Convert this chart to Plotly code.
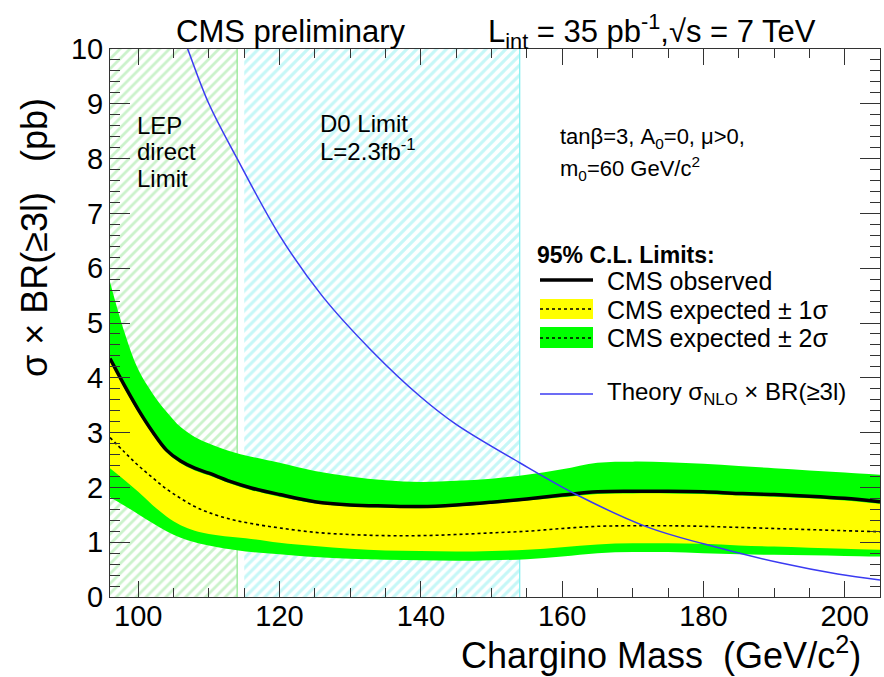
import plotly.graph_objects as go

# ---------------- data ----------------
mass = [96, 98, 100, 102, 104, 106, 108, 110, 113, 116, 120, 125, 130, 135, 140,
        145, 150, 155, 160, 165, 170, 175, 180, 185, 190, 195, 200, 205]
observed = [4.35, 3.87, 3.42, 3.02, 2.68, 2.48, 2.35, 2.26, 2.11, 1.99, 1.87, 1.74, 1.68, 1.66, 1.65,
            1.68, 1.73, 1.79, 1.86, 1.92, 1.93, 1.93, 1.92, 1.89, 1.87, 1.84, 1.80, 1.74]
expected = [2.91, 2.65, 2.40, 2.18, 1.97, 1.80, 1.65, 1.54, 1.42, 1.34, 1.26, 1.18, 1.14, 1.12, 1.12,
            1.14, 1.17, 1.20, 1.25, 1.29, 1.30, 1.30, 1.29, 1.27, 1.25, 1.23, 1.21, 1.19]
exp_m1 = [2.35, 2.14, 1.92, 1.68, 1.47, 1.31, 1.21, 1.15, 1.10, 1.06, 0.99, 0.93, 0.88, 0.85, 0.84,
          0.83, 0.84, 0.86, 0.91, 0.96, 0.98, 0.98, 0.97, 0.94, 0.92, 0.90, 0.88, 0.86]
exp_p1 = [4.30, 3.82, 3.37, 2.98, 2.64, 2.44, 2.31, 2.22, 2.07, 1.95, 1.83, 1.71, 1.65, 1.63, 1.62,
          1.65, 1.70, 1.76, 1.82, 1.88, 1.89, 1.89, 1.88, 1.85, 1.83, 1.80, 1.76, 1.70]
exp_m2 = [1.82, 1.67, 1.51, 1.35, 1.20, 1.08, 1.00, 0.94, 0.87, 0.82, 0.78, 0.73, 0.70, 0.68, 0.67,
          0.66, 0.67, 0.69, 0.74, 0.80, 0.82, 0.82, 0.80, 0.78, 0.77, 0.76, 0.75, 0.74]
exp_p2 = [5.75, 4.85, 4.15, 3.72, 3.38, 3.10, 2.92, 2.80, 2.66, 2.56, 2.45, 2.30, 2.20, 2.13, 2.10,
          2.12, 2.16, 2.23, 2.33, 2.45, 2.47, 2.46, 2.43, 2.39, 2.35, 2.31, 2.27, 2.23]

theory_mass = [105, 107, 110, 114, 120, 126, 133, 140, 145, 154, 162, 172, 180, 191, 199, 205]
theory_xsec = [10.7, 10.0, 9.0, 8.0, 6.6, 5.5, 4.5, 3.65, 3.15, 2.45, 1.87, 1.28, 0.97, 0.62, 0.42, 0.31]

lep_range = [96, 114]
d0_range = [115, 154]

x_ticks = [100, 120, 140, 160, 180, 200]
y_ticks = [0, 1, 2, 3, 4, 5, 6, 7, 8, 9, 10]

FONT = "Liberation Sans, Arial, Helvetica, sans-serif"

# plot area in pixels
L, R, T, B = 110, 880, 49, 597
W, H = 884, 677


def px(xp):
    return (xp - L) / (R - L)


def py(yp):
    return (B - yp) / (B - T)


fig = go.Figure()

# hatched exclusion regions
fig.add_trace(go.Scatter(
    x=[lep_range[0], lep_range[1], lep_range[1], lep_range[0], lep_range[0]],
    y=[0, 0, 10, 10, 0], mode="none", fill="toself",
    fillcolor="rgba(0,0,0,0)",
    fillpattern=dict(shape="/", fgcolor="#98e698", bgcolor="white", size=7, solidity=0.4),
    hoverinfo="skip", showlegend=False))
fig.add_trace(go.Scatter(
    x=[lep_range[1], lep_range[1]], y=[0, 10], mode="lines",
    line=dict(color="#8de68d", width=1.2), hoverinfo="skip", showlegend=False))
fig.add_trace(go.Scatter(
    x=[d0_range[0], d0_range[1], d0_range[1], d0_range[0], d0_range[0]],
    y=[0, 0, 10, 10, 0], mode="none", fill="toself",
    fillcolor="rgba(0,0,0,0)",
    fillpattern=dict(shape="/", fgcolor="#8ef0f0", bgcolor="white", size=7, solidity=0.45),
    hoverinfo="skip", showlegend=False))
fig.add_trace(go.Scatter(
    x=[d0_range[1], d0_range[1]], y=[0, 10], mode="lines",
    line=dict(color="#7feeee", width=1.2), hoverinfo="skip", showlegend=False))

# 2 sigma band
fig.add_trace(go.Scatter(x=mass, y=exp_m2, mode="lines", line=dict(width=0, shape="spline"),
                         hoverinfo="skip", showlegend=False))
fig.add_trace(go.Scatter(x=mass, y=exp_p2, mode="lines", line=dict(width=0, shape="spline"),
                         fill="tonexty", fillcolor="#00ff00", hoverinfo="skip", showlegend=False))
# 1 sigma band
fig.add_trace(go.Scatter(x=mass, y=exp_m1, mode="lines", line=dict(width=0, shape="spline"),
                         hoverinfo="skip", showlegend=False))
fig.add_trace(go.Scatter(x=mass, y=exp_p1, mode="lines", line=dict(width=0, shape="spline"),
                         fill="tonexty", fillcolor="#ffff00", hoverinfo="skip", showlegend=False))
# expected
fig.add_trace(go.Scatter(x=mass, y=expected, mode="lines",
                         line=dict(color="black", width=1.6, dash="dot", shape="spline"),
                         showlegend=False))
# observed
fig.add_trace(go.Scatter(x=mass, y=observed, mode="lines",
                         line=dict(color="black", width=3.5, shape="spline"),
                         showlegend=False))
# theory
fig.add_trace(go.Scatter(x=theory_mass, y=theory_xsec, mode="lines",
                         line=dict(color="#3b3bf2", width=1.5, shape="spline"),
                         showlegend=False))

axis_common = dict(
    showgrid=False, zeroline=False, showline=True, linecolor="#333333", linewidth=1,
    mirror="ticks", ticks="inside", tickcolor="#333333",
    tickfont=dict(family=FONT, size=29, color="black"),
)
fig.update_xaxes(range=[96, 205], tickvals=x_ticks, ticklen=16, ticklabelstandoff=-7,
                 minor=dict(ticks="inside", dtick=5, tick0=0, ticklen=9, tickcolor="#333333"),
                 **axis_common)
fig.update_yaxes(range=[0, 10], tickvals=y_ticks, ticklen=20,
                 minor=dict(ticks="inside", dtick=0.2, tick0=0, ticklen=10, tickcolor="#333333"),
                 **axis_common)

ann = []


def text(x, y, s, size, xanchor="left", yanchor="middle", angle=0):
    ann.append(dict(x=px(x), y=py(y), xref="paper", yref="paper", text=s, showarrow=False,
                    xanchor=xanchor, yanchor=yanchor, textangle=angle,
                    font=dict(family=FONT, size=size, color="black")))


text(291, 32, "CMS preliminary", 31, xanchor="center")
text(486, 32, "L<sub>int</sub> = 35 pb<sup>-1</sup>,√s = 7 TeV", 31)
text(135, 125, "LEP", 24)
text(135, 151, "direct", 24)
text(135, 178, "Limit", 24)
text(318, 123, "D0 Limit", 24)
text(318, 150, "L=2.3fb<sup>-1</sup>", 24)
text(558, 138, "tanβ=3, A<sub>0</sub>=0, μ>0,", 22)
text(558, 168, "m<sub>0</sub>=60 GeV/c<sup>2</sup>", 22)
text(535, 255, "<b>95% C.L. Limits:</b>", 23)
text(605, 281, "CMS observed", 25)
text(605, 310, "CMS expected ± 1σ", 25)
text(605, 338, "CMS expected ± 2σ", 25)
text(605, 393, "Theory σ<sub>NLO</sub> × BR(≥3l)", 24)
text(863, 653, "Chargino Mass  (GeV/c<sup>2</sup>)", 36, xanchor="right")
text(34, 238, "σ × BR(≥3l)   (pb)", 36, xanchor="center", angle=-90)

shapes = []


def pshape(**kw):
    d = dict(xref="paper", yref="paper")
    d.update(kw)
    shapes.append(d)


# legend symbols
pshape(type="line", x0=px(540), x1=px(593), y0=py(280), y1=py(280), line=dict(color="black", width=3.5))
pshape(type="rect", x0=px(540), x1=px(593), y0=py(319), y1=py(299), fillcolor="#ffff00", line=dict(width=0))
pshape(type="line", x0=px(540), x1=px(593), y0=py(309), y1=py(309), line=dict(color="black", width=1.6, dash="dot"))
pshape(type="rect", x0=px(540), x1=px(593), y0=py(348), y1=py(327), fillcolor="#00ff00", line=dict(width=0))
pshape(type="line", x0=px(540), x1=px(593), y0=py(338), y1=py(338), line=dict(color="black", width=1.6, dash="dot"))
pshape(type="line", x0=px(540), x1=px(593), y0=py(394), y1=py(394), line=dict(color="#3b3bf2", width=1.5))

fig.update_layout(
    width=W, height=H,
    margin=dict(l=L, r=W - R, t=T, b=H - B, pad=0),
    paper_bgcolor="white", plot_bgcolor="white",
    annotations=ann, shapes=shapes, showlegend=False,
    font=dict(family=FONT),
)

fig.write_html("out.html")
